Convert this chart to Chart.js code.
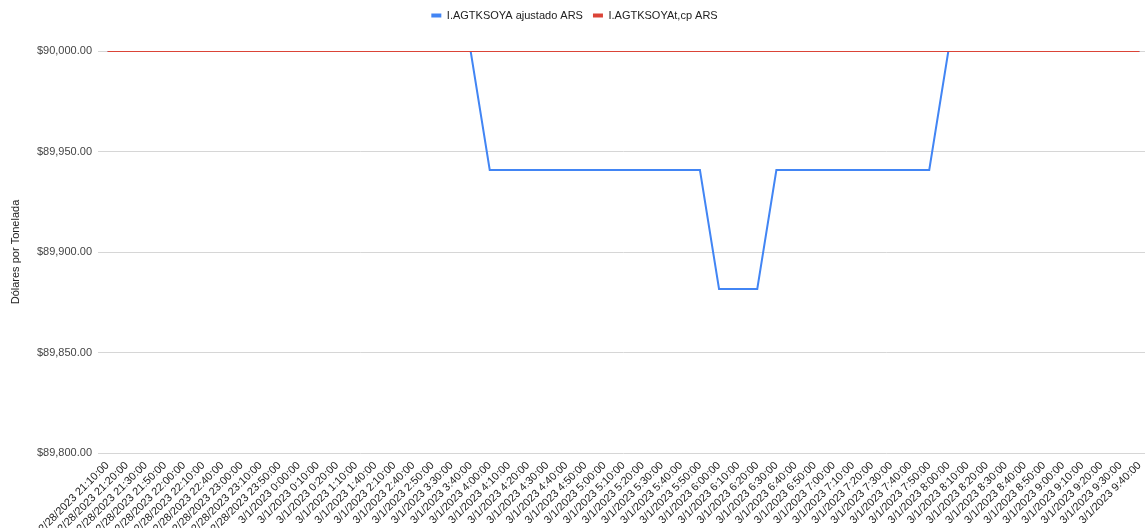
<!DOCTYPE html>
<html>
<head>
<meta charset="utf-8">
<script src="https://cdn.jsdelivr.net/npm/chart.js@4.4.1/dist/chart.umd.min.js"></script>
<style>
  html, body { margin: 0; padding: 0; background: #fff; overflow: hidden; }
  #wrap { width: 1145px; height: 528px; overflow: hidden; }
</style>
</head>
<body>
<div id="wrap"><canvas id="c" width="1149" height="528"></canvas></div>
<script>
const categories = [
  "2/28/2023 21:10:00", "2/28/2023 21:20:00", "2/28/2023 21:30:00", "2/28/2023 21:50:00",
  "2/28/2023 22:00:00", "2/28/2023 22:10:00", "2/28/2023 22:40:00", "2/28/2023 23:00:00",
  "2/28/2023 23:10:00", "2/28/2023 23:50:00",
  "3/1/2023 0:00:00", "3/1/2023 0:10:00", "3/1/2023 0:20:00", "3/1/2023 1:10:00",
  "3/1/2023 1:40:00", "3/1/2023 2:10:00", "3/1/2023 2:40:00", "3/1/2023 2:50:00",
  "3/1/2023 3:30:00", "3/1/2023 3:40:00",
  "3/1/2023 4:00:00", "3/1/2023 4:10:00", "3/1/2023 4:20:00", "3/1/2023 4:30:00",
  "3/1/2023 4:40:00", "3/1/2023 4:50:00", "3/1/2023 5:00:00", "3/1/2023 5:10:00",
  "3/1/2023 5:20:00", "3/1/2023 5:30:00", "3/1/2023 5:40:00", "3/1/2023 5:50:00",
  "3/1/2023 6:00:00", "3/1/2023 6:10:00", "3/1/2023 6:20:00", "3/1/2023 6:30:00",
  "3/1/2023 6:40:00", "3/1/2023 6:50:00", "3/1/2023 7:00:00", "3/1/2023 7:10:00",
  "3/1/2023 7:20:00", "3/1/2023 7:30:00", "3/1/2023 7:40:00", "3/1/2023 7:50:00",
  "3/1/2023 8:00:00", "3/1/2023 8:10:00", "3/1/2023 8:20:00", "3/1/2023 8:30:00",
  "3/1/2023 8:40:00", "3/1/2023 8:50:00", "3/1/2023 9:00:00", "3/1/2023 9:10:00",
  "3/1/2023 9:20:00", "3/1/2023 9:30:00", "3/1/2023 9:40:00"
];

const ajustadoARS = [
  90000, 90000, 90000, 90000, 90000, 90000, 90000, 90000, 90000, 90000,
  90000, 90000, 90000, 90000, 90000, 90000, 90000, 90000, 90000, 90000,
  89940.8, 89940.8, 89940.8, 89940.8, 89940.8, 89940.8, 89940.8, 89940.8,
  89940.8, 89940.8, 89940.8, 89940.8,
  89881.6, 89881.6, 89881.6,
  89940.8, 89940.8, 89940.8, 89940.8, 89940.8, 89940.8, 89940.8, 89940.8, 89940.8,
  90000, 90000, 90000, 90000, 90000, 90000, 90000, 90000, 90000, 90000, 90000
];

const tcpARS = [
  90000, 90000, 90000, 90000, 90000, 90000, 90000, 90000, 90000, 90000,
  90000, 90000, 90000, 90000, 90000, 90000, 90000, 90000, 90000, 90000,
  90000, 90000, 90000, 90000, 90000, 90000, 90000, 90000, 90000, 90000,
  90000, 90000, 90000, 90000, 90000, 90000, 90000, 90000, 90000, 90000,
  90000, 90000, 90000, 90000, 90000, 90000, 90000, 90000, 90000, 90000,
  90000, 90000, 90000, 90000, 90000
];

const seriesNames = ["I.AGTKSOYA ajustado ARS", "I.AGTKSOYAt,cp ARS"];
const yTicks = [89800, 89850, 89900, 89950, 90000];
const yTitle = "Dólares por Tonelada";

const FONT = "'Liberation Sans', Arial, sans-serif";

const legendHeightPlugin = {
  id: 'legendHeight',
  afterInit(chart) {
    const lg = chart.legend;
    if (lg && !lg._wrapped) {
      const orig = lg.fit;
      lg.fit = function () {
        orig.call(this);
        this.height = 51;
      };
      lg._wrapped = true;
    }
  }
};

const fmt = v => '$' + v.toLocaleString('en-US', { minimumFractionDigits: 2, maximumFractionDigits: 2 });

new Chart(document.getElementById('c'), {
  type: 'line',
  data: {
    labels: categories,
    datasets: [
      {
        label: seriesNames[0],
        data: ajustadoARS,
        borderColor: '#4285F4',
        backgroundColor: '#4285F4',
        borderWidth: 2,
        pointRadius: 0,
        tension: 0,
        order: 1
      },
      {
        label: seriesNames[1],
        data: tcpARS,
        borderColor: '#DB4437',
        backgroundColor: '#DB4437',
        borderWidth: 2,
        pointRadius: 0,
        tension: 0,
        order: 0
      }
    ]
  },
  options: {
    responsive: false,
    devicePixelRatio: 1,
    animation: false,
    layout: { padding: { left: 0, right: 0, top: 0, bottom: 0 } },
    plugins: {
      tooltip: { enabled: false },
      legend: {
        position: 'top',
        align: 'center',
        labels: {
          color: '#222222',
          font: { family: FONT, size: 11 },
          boxWidth: 10,
          boxHeight: 4,
          padding: 10,
          sort: (a, b) => a.datasetIndex - b.datasetIndex,
          generateLabels: (chart) =>
            Chart.defaults.plugins.legend.labels.generateLabels(chart)
              .map(l => Object.assign(l, { lineWidth: 0 }))
        }
      }
    },
    scales: {
      x: {
        type: 'category',
        offset: true,
        grid: { display: false, drawTicks: false },
        border: { display: false },
        ticks: {
          autoSkip: false,
          minRotation: 45,
          maxRotation: 45,
          padding: 6,
          color: '#222222',
          font: { family: FONT, size: 11 }
        },
        afterFit(scale) { scale.height = 75; scale.paddingRight = 0; }
      },
      y: {
        min: 89800,
        max: 90000,
        afterBuildTicks(scale) { scale.ticks = yTicks.map(v => ({ value: v })); },
        grid: { color: '#d6d6d6', drawTicks: false, lineWidth: 1 },
        border: { display: false },
        ticks: {
          padding: 6,
          color: '#444444',
          font: { family: FONT, size: 11 },
          callback: v => fmt(v)
        },
        title: {
          display: true,
          text: yTitle,
          color: '#222222',
          font: { family: FONT, size: 11 },
          padding: { top: 9, bottom: 0 }
        },
        afterFit(scale) { scale.width = 98; }
      }
    }
  },
  plugins: [legendHeightPlugin]
});
</script>
</body>
</html>
